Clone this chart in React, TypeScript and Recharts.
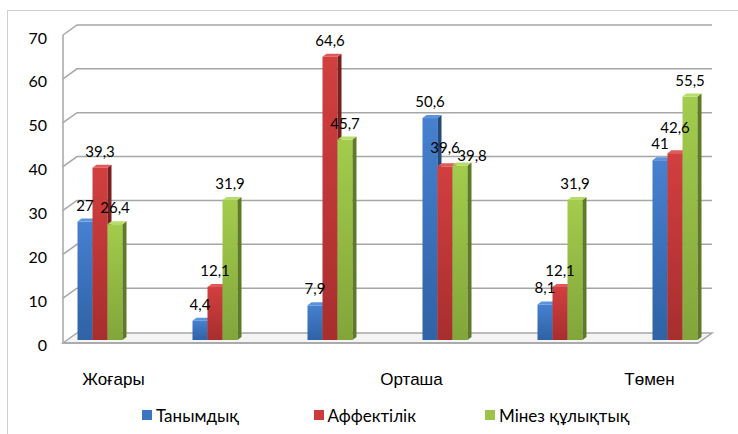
import React from 'react';
import { BarChart, Bar, XAxis, YAxis, CartesianGrid, LabelList, Legend } from 'recharts';

const categories = ['Жоғары', '', '', 'Орташа', '', 'Төмен'];
const tanymdyk = [27, 4.4, 7.9, 50.6, 8.1, 41];
const affektilik = [39.3, 12.1, 64.6, 39.6, 12.1, 42.6];
const minez = [26.4, 31.9, 45.7, 39.8, 31.9, 55.5];
const seriesNames = ['Танымдық', 'Аффектілік', 'Мінез құлықтық'];
const yTicks = [0, 10, 20, 30, 40, 50, 60, 70];

const data = categories.map((c, i) => ({ i, cat: c, s0: tanymdyk[i], s1: affektilik[i], s2: minez[i] }));

const palette = [
  { top: '#5b92dc', g1: '#4680cf', g2: '#2f62a6', side: '#23497d', legend: '#3b74c0' },
  { top: '#e05a5a', g1: '#d23f3f', g2: '#a82e2e', side: '#7a1f1f', legend: '#cc3a3a' },
  { top: '#b8dc6a', g1: '#a3cc4c', g2: '#82a53a', side: '#5d7a26', legend: '#9bc448' },
];

const tickDx = [13, 0, 0, -34, 0, -26];
// label nudges [series][category] -> [dx, dy]
const labelNudge: Record<string, [number, number]> = {
  '1-3': [0, -2],
  '2-3': [12, 7],
  '1-5': [0, -9],
};

const fmt = (v: any) => String(v).replace('.', ',');

const make3D = (k: number) => (props: any) => {
  const { x, y, width, height } = props;
  if (width == null || height == null) return null;
  const d = 4;
  const u = 3;
  const c = palette[k];
  return (
    <g>
      <rect x={x} y={y} width={width} height={height} fill={`url(#grad${k})`} />
      <polygon points={`${x + width},${y} ${x + width + d},${y - u} ${x + width + d},${y + height - u} ${x + width},${y + height}`} fill={c.side} />
      <polygon points={`${x},${y} ${x + d},${y - u} ${x + width + d},${y - u} ${x + width},${y}`} fill={c.top} />
    </g>
  );
};

const makeLabel = (k: number) => (props: any) => {
  const { x, y, width, value, index } = props;
  const n = labelNudge[`${k}-${index}`] || [0, 0];
  return (
    <text x={x + width / 2 + n[0]} y={y - 11 + n[1]} textAnchor="middle" fontFamily="Lato" fontSize={15} fill="#000">
      {fmt(value)}
    </text>
  );
};

const gridLine = (props: any) => {
  const y = props.y1;
  const key = props.key ?? `g${y}`;
  if (y >= 338) {
    return (
      <g key={key}>
        <polygon points={`63,${y + 3} 77,${y - 7} 712,${y - 7} 698,${y + 3}`} fill="#f4f4f4" stroke="#a6a6a6" strokeWidth={1.5} />
        <line x1={63} y1={y + 3} x2={698} y2={y + 3} stroke="#a6a6a6" strokeWidth={1.5} />
        <line x1={63} y1={35} x2={63} y2={y + 3} stroke="#a6a6a6" strokeWidth={1.5} />
      </g>
    );
  }
  return (
    <polyline key={key} points={`63,${y + 2} 77,${y - 8} 712,${y - 8}`} fill="none" stroke="#a6a6a6" strokeWidth={1.5} />
  );
};

const YTick = (props: any) => {
  const { y, payload } = props;
  return (
    <text x={47} y={y + 4} textAnchor="end" dominantBaseline="central" fontFamily="Lato" fontSize={16} fill="#000">
      {payload.value}
    </text>
  );
};

const XTick = (props: any) => {
  const { x, y, payload } = props;
  const idx = payload.value;
  const label = categories[idx];
  if (!label) return null;
  return (
    <text x={x + tickDx[idx]} y={y + 45} textAnchor="middle" fontFamily="Liberation Sans" fontSize={17} fill="#000">
      {label}
    </text>
  );
};

const LegendContent = () => (
  <div style={{ display: 'flex', paddingLeft: 142, height: 24, alignItems: 'center', fontFamily: 'Lato', fontSize: 17, color: '#000' }}>
    {seriesNames.map((n, k) => (
      <div key={n} style={{ width: 171.5, display: 'flex', alignItems: 'center' }}>
        <span style={{ display: 'inline-block', width: 10, height: 10, background: palette[k].legend, marginRight: 4 }} />
        <span>{n}</span>
      </div>
    ))}
  </div>
);

export default function App() {
  return (
    <div style={{ position: 'absolute', left: 0, top: 0, width: 738, height: 434, overflow: 'hidden', background: '#fff' }}>
      <div style={{ position: 'absolute', left: 7, top: 10, width: 900, height: 600, borderLeft: '1.5px solid #cfcfcf', borderTop: '1.5px solid #cfcfcf' }} />
      <div style={{ position: 'absolute', left: 0, top: 0 }}>
        <BarChart width={738} height={434} data={data} margin={{ top: 33, right: 5, bottom: 20, left: 0 }} barCategoryGap="30%" barGap={0}>
          <defs>
            {palette.map((c, k) => (
              <linearGradient key={k} id={`grad${k}`} x1="0" y1="0" x2="0" y2="1">
                <stop offset="0%" stopColor={c.g1} />
                <stop offset="100%" stopColor={c.g2} />
              </linearGradient>
            ))}
          </defs>
          <CartesianGrid vertical={false} horizontal={gridLine} />
          <XAxis dataKey="i" type="category" axisLine={false} tickLine={false} tickSize={0} tickMargin={0} height={50} tick={<XTick />} interval={0} />
          <YAxis domain={[0, 70]} ticks={yTicks} width={43} axisLine={false} tickLine={false} tick={<YTick />} />
          <Legend verticalAlign="bottom" height={24} content={<LegendContent />} wrapperStyle={{ top: 403, left: 0, bottom: 'auto', width: 738 }} />
          {['s0', 's1', 's2'].map((k, idx) => (
            <Bar key={k} dataKey={k} name={seriesNames[idx]} fill={palette[idx].legend} shape={make3D(idx)} isAnimationActive={false}>
              <LabelList dataKey={k} content={makeLabel(idx)} />
            </Bar>
          ))}
        </BarChart>
      </div>
    </div>
  );
}
